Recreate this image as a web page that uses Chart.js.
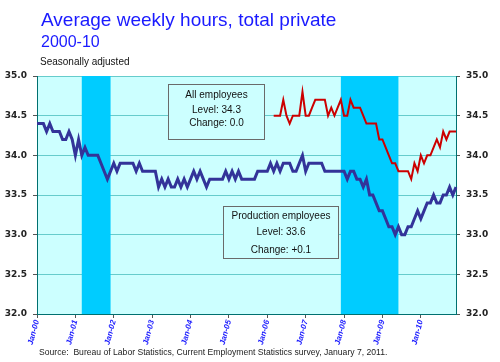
<!DOCTYPE html>
<html>
<head>
<meta charset="utf-8">
<script src="https://cdn.jsdelivr.net/npm/chart.js@4.4.1/dist/chart.umd.min.js"></script>
<style>
  body { margin: 0; background: #fff; }
  #wrap { position: relative; width: 500px; height: 362px; font-family: "Liberation Sans", Arial, sans-serif; }
  #c { position: absolute; left: 0; top: 0; }
  .txt { position: absolute; white-space: nowrap; line-height: 1; }
  .t1 { left: 41px; top: 10px; font-size: 19px; color: #1a1aff; }
  .t2 { left: 41px; top: 34px; font-size: 16px; color: #1a1aff; }
  .t3 { left: 40px; top: 57px; font-size: 10px; color: #111; }
  .src { left: 39px; top: 348px; font-size: 8.6px; color: #222; }
</style>
</head>
<body>
<div id="wrap">
  <canvas id="c" width="500" height="362"></canvas>
  <div class="txt t1">Average weekly hours, total private</div>
  <div class="txt t2">2000-10</div>
  <div class="txt t3">Seasonally adjusted</div>
  <div class="txt src">Source:&nbsp; Bureau of Labor Statistics, Current Employment Statistics survey, January 7, 2011.</div>
</div>
<script>
// categories
const years = ['00', '01', '02', '03', '04', '05', '06', '07', '08', '09', '10'];
const months = ['Jan', 'Feb', 'Mar', 'Apr', 'May', 'Jun', 'Jul', 'Aug', 'Sep', 'Oct', 'Nov', 'Dec'];
const labels = years.flatMap(y => months.map(m => m + '-' + y));

// production employees, by year
const prod2000 = [34.4, 34.4, 34.4, 34.3, 34.4, 34.3, 34.3, 34.3, 34.2, 34.2, 34.3, 34.2];
const prod2001 = [34.0, 34.2, 34.0, 34.1, 34.0, 34.0, 34.0, 34.0, 33.9, 33.8, 33.7, 33.8];
const prod2002 = [33.9, 33.8, 33.9, 33.9, 33.9, 33.9, 33.9, 33.8, 33.9, 33.8, 33.8, 33.8];
const prod2003 = [33.8, 33.8, 33.6, 33.7, 33.6, 33.7, 33.6, 33.6, 33.7, 33.6, 33.7, 33.6];
const prod2004 = [33.7, 33.8, 33.7, 33.8, 33.7, 33.6, 33.7, 33.7, 33.7, 33.7, 33.7, 33.8];
const prod2005 = [33.7, 33.8, 33.7, 33.8, 33.7, 33.7, 33.7, 33.7, 33.7, 33.8, 33.8, 33.8];
const prod2006 = [33.8, 33.9, 33.8, 33.9, 33.8, 33.9, 33.9, 33.9, 33.8, 33.8, 33.9, 34.0];
const prod2007 = [33.8, 33.9, 33.9, 33.9, 33.9, 33.9, 33.8, 33.8, 33.8, 33.8, 33.8, 33.8];
const prod2008 = [33.8, 33.7, 33.8, 33.8, 33.7, 33.7, 33.6, 33.7, 33.5, 33.5, 33.4, 33.3];
const prod2009 = [33.3, 33.2, 33.1, 33.1, 33.0, 33.1, 33.0, 33.0, 33.1, 33.1, 33.2, 33.3];
const prod2010 = [33.2, 33.3, 33.4, 33.4, 33.5, 33.4, 33.4, 33.5, 33.5, 33.6, 33.5, 33.6];

// all employees (series starts Mar-06)
const all2006 = [null, null, 34.5, 34.5, 34.5, 34.7, 34.5, 34.4, 34.5, 34.5, 34.5, 34.8];
const all2007 = [34.5, 34.5, 34.6, 34.7, 34.7, 34.7, 34.7, 34.5, 34.6, 34.5, 34.6, 34.7];
const all2008 = [34.5, 34.5, 34.7, 34.6, 34.6, 34.6, 34.5, 34.4, 34.4, 34.4, 34.4, 34.2];
const all2009 = [34.2, 34.1, 34.0, 33.9, 33.9, 33.8, 33.8, 33.8, 33.8, 33.7, 33.9, 33.8];
const all2010 = [34.0, 33.9, 34.0, 34.0, 34.1, 34.2, 34.1, 34.3, 34.2, 34.3, 34.3, 34.3];

const production = [].concat(prod2000, prod2001, prod2002, prod2003, prod2004, prod2005,
  prod2006, prod2007, prod2008, prod2009, prod2010);
const allEmployees = new Array(72).fill(null).concat(all2006, all2007, all2008, all2009, all2010);

// recessions
const recessionStart = ['Mar-01', 'Dec-07'];
const recessionEnd = ['Dec-01', 'Jun-09'];

const yTicks = [32.0, 32.5, 33.0, 33.5, 34.0, 34.5, 35.0];

function fmtChange(arr) {
  const d = Math.round((arr[arr.length - 1] - arr[arr.length - 2]) * 10) / 10;
  return (d > 0 ? '+' : '') + d.toFixed(1);
}

const notes = [
  { lines: ['All employees', 'Level: ' + allEmployees[allEmployees.length - 1].toFixed(1), 'Change: ' + fmtChange(allEmployees)],
    from: 'Jun-03', to: 'Dec-05', top: 34.9, bottom: 34.2, rows: [34.76, 34.57, 34.41] },
  { lines: ['Production employees', 'Level: ' + production[production.length - 1].toFixed(1), 'Change: ' + fmtChange(production)],
    from: 'Nov-04', to: 'Nov-07', top: 33.36, bottom: 32.7, rows: [33.23, 33.03, 32.8] }
];

const backdrop = {
  id: 'backdrop',
  beforeDraw(chart) {
    const { ctx, chartArea: a } = chart;
    ctx.save();
    ctx.fillStyle = '#ccffff';
    ctx.fillRect(a.left, a.top, a.right - a.left, a.bottom - a.top);
    ctx.restore();
  },
  beforeDatasetsDraw(chart) {
    const { ctx, chartArea: a, scales } = chart;
    const x = scales.x, y = scales.y;
    ctx.save();
    ctx.fillStyle = '#00ccff';
    recessionStart.forEach((s, k) => {
      const x0 = x.getPixelForValue(labels.indexOf(s));
      const x1 = x.getPixelForValue(labels.indexOf(recessionEnd[k]));
      ctx.fillRect(x0, a.top, x1 - x0, a.bottom - a.top);
    });
    notes.forEach(n => {
      const x0 = Math.round(x.getPixelForValue(labels.indexOf(n.from))) + 0.5;
      const x1 = Math.round(x.getPixelForValue(labels.indexOf(n.to))) + 0.5;
      const y0 = Math.round(y.getPixelForValue(n.top)) + 0.5;
      const y1 = Math.round(y.getPixelForValue(n.bottom)) + 0.5;
      ctx.fillStyle = '#ccffff';
      ctx.fillRect(x0, y0, x1 - x0, y1 - y0);
      ctx.strokeStyle = '#6a6a6a';
      ctx.lineWidth = 1;
      ctx.strokeRect(x0, y0, x1 - x0, y1 - y0);
      ctx.fillStyle = '#111';
      ctx.font = '10px "Liberation Sans", Arial, sans-serif';
      ctx.textAlign = 'center';
      ctx.textBaseline = 'middle';
      n.lines.forEach((t, i) => ctx.fillText(t, (x0 + x1) / 2, y.getPixelForValue(n.rows[i])));
    });
    ctx.restore();
  }
};

const yTickFont = { family: 'DejaVu Sans', size: 9, weight: 'bold' };

new Chart(document.getElementById('c'), {
  type: 'line',
  data: {
    labels: labels,
    datasets: [
      {
        label: 'Production employees',
        data: production,
        borderColor: '#333399',
        borderWidth: 3,
        pointRadius: 0,
        tension: 0,
        yAxisID: 'y'
      },
      {
        label: 'All employees',
        data: allEmployees,
        borderColor: '#cc0000',
        borderWidth: 2,
        pointRadius: 0,
        tension: 0,
        yAxisID: 'y'
      }
    ]
  },
  options: {
    responsive: false,
    animation: false,
    layout: { padding: { top: 76, left: 0, right: 0, bottom: 0 } },
    plugins: { legend: { display: false }, tooltip: { enabled: false } },
    scales: {
      x: {
        type: 'category',
        offset: false,
        grid: { drawOnChartArea: false, tickLength: 4, tickColor: '#555' },
        border: { color: '#007070' },
        ticks: {
          autoSkip: false,
          maxRotation: 75,
          minRotation: 75,
          padding: 1,
          color: '#1a1aff',
          font: { family: 'Liberation Sans', size: 8, weight: 'bold', style: 'italic' },
          callback(v) { return this.getLabelForValue(v); }
        },
        afterBuildTicks(s) { s.ticks = s.ticks.filter(t => t.value % 12 === 0); },
        afterFit(s) { s.height = 48; }
      },
      y: {
        position: 'left',
        min: 32, max: 35,
        grid: { color: '#66cccc', tickColor: '#555', tickLength: 4 },
        border: { color: '#007070' },
        ticks: { color: '#222', font: yTickFont, padding: 6, callback: v => v.toFixed(1) },
        afterBuildTicks(s) { s.ticks = yTicks.map(v => ({ value: v })); },
        afterFit(s) { s.width = 37; }
      },
      y2: {
        position: 'right',
        min: 32, max: 35,
        grid: { drawOnChartArea: false, tickColor: '#555', tickLength: 4 },
        border: { color: '#007070' },
        ticks: { color: '#222', font: yTickFont, padding: 6, callback: v => v.toFixed(1) },
        afterBuildTicks(s) { s.ticks = yTicks.map(v => ({ value: v })); },
        afterFit(s) { s.width = 44; }
      }
    }
  },
  plugins: [backdrop]
});
</script>
</body>
</html>
